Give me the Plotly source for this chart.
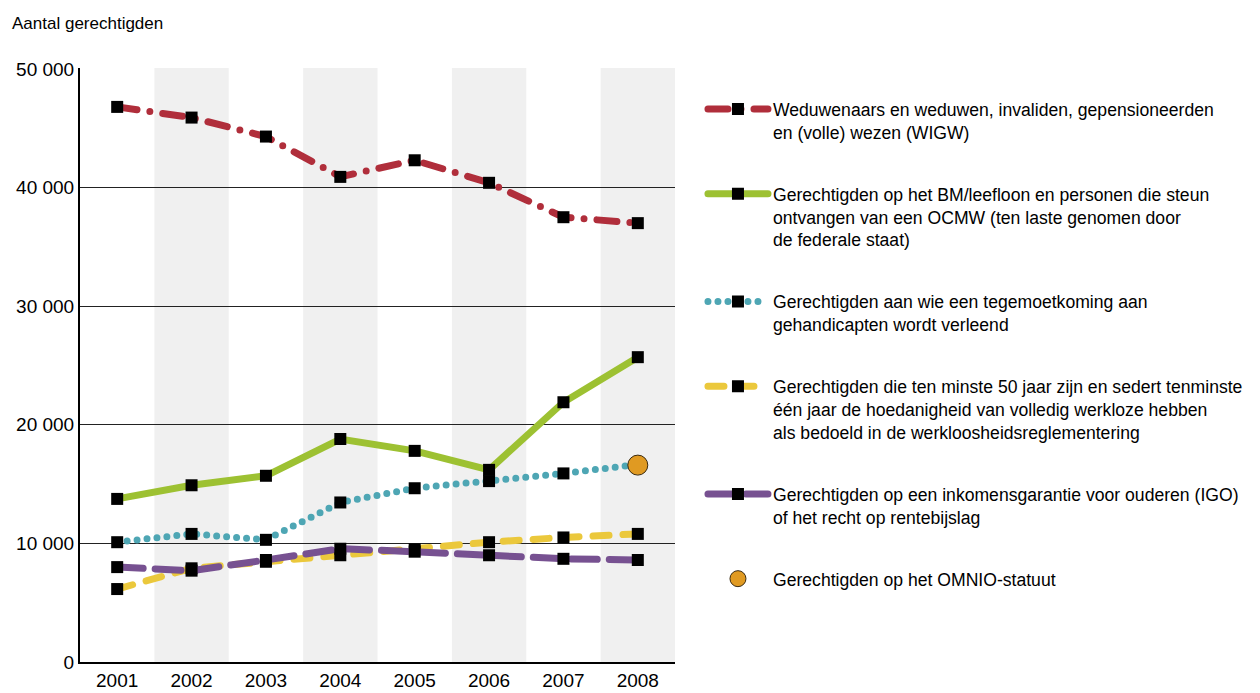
import plotly.graph_objects as go

years = ["2001", "2002", "2003", "2004", "2005", "2006", "2007", "2008"]
wigw = [46800, 45900, 44300, 40900, 42300, 40400, 37500, 37000]
leefloon = [13750, 14900, 15700, 18800, 17800, 16200, 21900, 25700]
handicap = [10100, 10800, 10300, 13450, 14650, 15250, 15900, 16650]
werkloos = [6150, 7900, 8450, 9000, 9500, 10100, 10500, 10800]
igo = [8000, 7700, 8600, 9550, 9300, 9000, 8700, 8600]
omnio_years = ["2008"]
omnio = [16600]

names = [
    "Weduwenaars en weduwen, invaliden, gepensioneerden<br>en (volle) wezen (WIGW)",
    "Gerechtigden op het BM/leefloon en personen die steun<br>ontvangen van een OCMW (ten laste genomen door<br>de federale staat)",
    "Gerechtigden aan wie een tegemoetkoming aan<br>gehandicapten wordt verleend",
    "Gerechtigden die ten minste 50 jaar zijn en sedert tenminste<br>één jaar de hoedanigheid van volledig werkloze hebben<br>als bedoeld in de werkloosheidsreglementering",
    "Gerechtigden op een inkomensgarantie voor ouderen (IGO)<br>of het recht op rentebijslag",
    "Gerechtigden op het OMNIO-statuut",
]

FONT = "Liberation Sans Narrow, Arial Narrow, Liberation Sans, sans-serif"

series = [
    (wigw, "#b02e3b", "20px,13px,0px,13px"),
    (leefloon, "#9dc132", "solid"),
    (handicap, "#4ea6b4", "0px,10px"),
    (werkloos, "#ebc83c", "16px,14px"),
    (igo, "#775191", "26px,12px"),
]

fig = go.Figure()
for i, (vals, col, dash) in enumerate(series):
    fig.add_trace(go.Scatter(
        x=years, y=vals, mode="lines+markers", name=names[i],
        legendgroup=f"g{i}",
        line=dict(color=col, width=7, dash=dash),
        marker=dict(symbol="square", size=12, color="black"),
    ))

fig.add_trace(go.Scatter(
    x=omnio_years, y=omnio, mode="markers", name=names[5], legendgroup="g5",
    marker=dict(symbol="circle", size=20, color="#e09a22", line=dict(color="#3a2a10", width=1)),
))

# alternating grey background bands
for i in range(1, len(years), 2):
    fig.add_vrect(x0=i - 0.5, x1=i + 0.5, fillcolor="#f0f0f0", line_width=0, layer="below")

# page body has an 8px margin: figure is 8px smaller so the page fits 1260x693
fig.update_layout(
    width=1252, height=685,
    margin=dict(l=72, r=585, t=60, b=31, autoexpand=False),
    paper_bgcolor="white", plot_bgcolor="white",
    separators=", ",
    font=dict(family=FONT, size=19, color="black"),
    showlegend=True,
    legend=dict(
        x=1.047, y=0.961, xanchor="left", yanchor="top",
        font=dict(family=FONT, size=17.6, color="black"),
        tracegroupgap=36, valign="top", itemwidth=60,
        bgcolor="rgba(0,0,0,0)",
    ),
    annotations=[dict(
        text="Aantal gerechtigden", xref="paper", yref="paper",
        x=-0.118, y=1.055, xanchor="left", yanchor="bottom", showarrow=False,
        font=dict(family=FONT, size=17, color="black"),
    )],
)
fig.update_xaxes(
    type="category", range=[-0.5, 7.5], showgrid=False,
    showline=True, linecolor="black", linewidth=2,
    ticks="", tickfont=dict(family=FONT, size=19),
)
fig.update_yaxes(
    range=[0, 50080], tickvals=[0, 10000, 20000, 30000, 40000, 50000],
    tickformat=",d", showgrid=True, gridcolor="#222", gridwidth=1,
    showline=True, linecolor="black", linewidth=2, zeroline=False,
    ticks="", tickfont=dict(family=FONT, size=19),
)

round_caps = (
    "setTimeout(function(){document.querySelectorAll('.js-line').forEach("
    "function(p){p.style.strokeLinecap='round';});}, 50);"
)

fig.write_html("out.html", post_script=round_caps)
